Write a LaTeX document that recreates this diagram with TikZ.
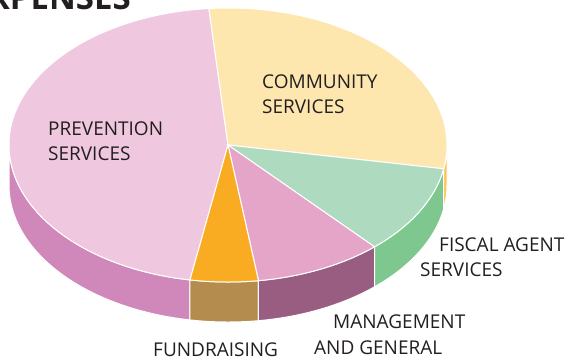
\documentclass[tikz,border=0pt]{standalone}
\usepackage{fontspec}
\setmainfont{Open Sans}
\definecolor{prevtop}{HTML}{EFC7DF}
\definecolor{prevside}{HTML}{D088BB}
\definecolor{commtop}{HTML}{FDE7AF}
\definecolor{commside}{HTML}{FDC55A}
\definecolor{fisctop}{HTML}{AEDBC0}
\definecolor{fiscside}{HTML}{7EC890}
\definecolor{mgmttop}{HTML}{E5A5C9}
\definecolor{mgmtside}{HTML}{9A5D82}
\definecolor{fundtop}{HTML}{F9AC22}
\definecolor{fundside}{HTML}{B38C4E}
\definecolor{ink}{HTML}{231F20}
\def\rx{219}
\def\ry{137}
\def\dep{40}
\tikzset{lbl/.style={anchor=base west, inner sep=0pt, text=ink, font=\fontsize{19}{22}\selectfont}}

\begin{document}
\begin{tikzpicture}[x=1pt,y=1pt]
\useasboundingbox (0,0) rectangle (569,-360);
\coordinate (C) at (228,-145);
\begin{scope}[shift={(C)}]
% sides
\foreach \a/\b/\c in {180/260/prevside, 260/278/fundside, 278/312/mgmtside, 312/350/fiscside, 350/360/commside}
  \filldraw[fill=\c, draw=white, line width=1pt] (\a:{\rx} and {\ry}) arc[start angle=\a, end angle=\b, x radius=\rx, y radius=\ry] -- ++(0,-\dep) arc[start angle=\b, end angle=\a, x radius=\rx, y radius=\ry] -- cycle;
% tops
\foreach \a/\b/\c in {95/260/prevtop, -10/95/commtop, -48/-10/fisctop, -82/-48/mgmttop, -100/-82/fundtop}
  \filldraw[fill=\c, draw=white, line width=1pt] (0,0) -- (\a:{\rx} and {\ry}) arc[start angle=\a, end angle=\b, x radius=\rx, y radius=\ry] -- cycle;
\end{scope}
\node[anchor=base east, inner sep=0pt, text=ink, font=\bfseries\fontsize{33}{34}\selectfont] (title) at (131,-9) {EXPENSES};
\node[lbl] (prev1) at (48,-135) {PREVENTION};
\node[lbl] (prev2) at (48,-160) {SERVICES};
\node[lbl] (comm1) at (262,-88) {COMMUNITY};
\node[lbl] (comm2) at (262,-113) {SERVICES};
\node[lbl] (fisc1) at (439,-251) {FISCAL AGENT};
\node[lbl] (fisc2) at (420,-276.5) {SERVICES};
\node[lbl] (mgmt1) at (333,-328.5) {MANAGEMENT};
\node[lbl] (mgmt2) at (314,-354) {AND GENERAL};
\node[lbl] (fund) at (153,-356.5) {FUNDRAISING};
\end{tikzpicture}
\end{document}
